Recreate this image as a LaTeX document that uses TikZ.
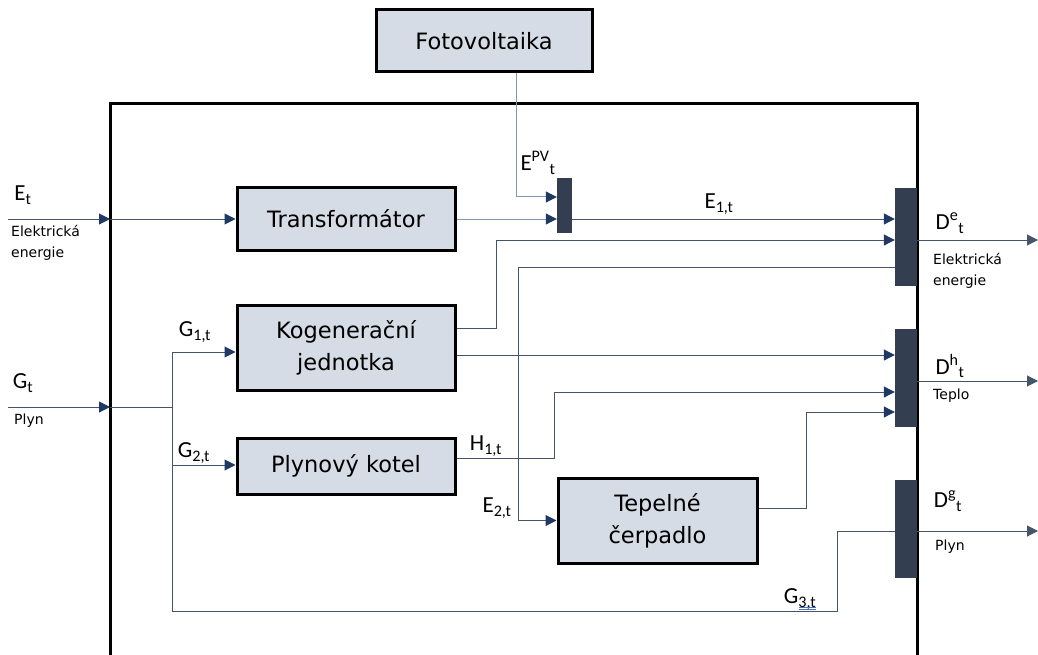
\documentclass[tikz,border=0pt]{standalone}
\usepackage{fontspec}
\setmainfont{DejaVu Sans}
\newfontfamily\lblfont{Carlito}
\usetikzlibrary{arrows.meta}
\definecolor{boxfill}{HTML}{D6DCE5}
\definecolor{barfill}{HTML}{333F50}
\definecolor{flowcol}{HTML}{44546A}
\definecolor{flowlight}{HTML}{8497B0}
\definecolor{tipnavy}{HTML}{1F3864}
\definecolor{spellblue}{HTML}{4472C4}
\tikzset{
  unit/.style={draw=black, line width=3pt, fill=boxfill, inner sep=0pt, align=center,
    font=\fontsize{22.5}{32}\selectfont},
  bar/.style={fill=barfill, draw=none, inner sep=0pt},
  line/.style={draw=flowcol, line width=1pt},
  lightline/.style={draw=flowlight, line width=1pt},
  arr/.style={-{Triangle[length=11pt,width=11pt,color=tipnavy]}},
  outarr/.style={-{Triangle[length=11pt,width=11pt,color=flowcol]}},
  sym/.style={font=\lblfont\fontsize{23}{25}\selectfont, inner sep=0pt},
  small/.style={font=\fontsize{14}{21}\selectfont, inner sep=0pt, align=left},
}
\begin{document}
\begin{tikzpicture}[x=1pt,y=-1pt]
\useasboundingbox (0,0) rectangle (1038,655);
\clip (0,0) rectangle (1038,655);

% system boundary
\draw[black, line width=3pt] (110,104) rectangle (917,690);

% units
\node[unit, minimum width=216pt, minimum height=62pt] (pv) at (484,41) {Fotovoltaika};
\node[unit, minimum width=218pt, minimum height=62pt] (trafo) at (346,219) {Transformátor};
\node[unit, minimum width=218pt, minimum height=85pt] (kog) at (346,347.5) {Kogenerační\\jednotka};
\node[unit, minimum width=218pt, minimum height=56pt] (boiler) at (346,466) {Plynový kotel};
\node[unit, minimum width=199pt, minimum height=85pt] (hp) at (657.5,520.5) {Tepelné\\čerpadlo};

% collector bars
\node[bar, minimum width=15pt, minimum height=55pt] (pvbar) at (564.5,205.5) {};
\node[bar, minimum width=22pt, minimum height=98pt] (elbar) at (906,237) {};
\node[bar, minimum width=22pt, minimum height=98pt] (heatbar) at (906,378) {};
\node[bar, minimum width=22pt, minimum height=98pt] (gasbar) at (906,529) {};

% inputs and branch points
\coordinate (eIn) at (8,219);
\coordinate (eFrame) at (110,219);
\coordinate (gIn) at (8,407);
\coordinate (gFrame) at (110,407);
\coordinate (gSplit) at (172,407);
\coordinate (g1) at (172,352);
\coordinate (g2) at (172,465);
\coordinate (g3a) at (172,611);
\coordinate (g3b) at (837,611);
\coordinate (kogHeat) at ([yshift=-7.5pt]kog.east);
\coordinate (eOut) at (1038,240);
\coordinate (hOut) at (1038,381);
\coordinate (gOut) at (1038,531);

% electricity
\draw[line, arr] (eIn) -- (eFrame);
\draw[line, arr] (eFrame) -- (trafo.west);
\draw[lightline, arr] ([xshift=32pt]pv.south) |- ([yshift=8.5pt]pvbar.west);
\draw[lightline, arr] (trafo.east) -- (pvbar.west |- trafo.east);
\draw[line, arr] (pvbar.east |- trafo.east) -- (elbar.west |- trafo.east);
\draw[line, arr] ([yshift=19.5pt]kog.east) -- ++(40,0) |- ([yshift=-3pt]elbar.west);
\draw[line, arr] ([yshift=-30pt]elbar.west) -| ([xshift=-38pt]hp.west) -- (hp.west);
\draw[line, outarr] ([yshift=-3pt]elbar.east) -- (eOut);

% heat
\draw[line, arr] (kogHeat) -- (heatbar.west |- kogHeat);
\draw[line, arr] ([yshift=8pt]boiler.east) -- ++(98,0) |- ([yshift=-14pt]heatbar.west);
\draw[line, arr] ([yshift=12.5pt]hp.east) -- ++(48,0) |- ([yshift=-34pt]heatbar.west);
\draw[line, outarr] ([yshift=-3pt]heatbar.east) -- (hOut);

% gas
\draw[line, arr] (gIn) -- (gFrame);
\draw[line] (gFrame) -- (gSplit);
\draw[line] (g1) -- (g3a) -- (g3b) |- ([yshift=-2pt]gasbar.west);
\draw[line, arr] (g1) -- (kog.west |- g1);
\draw[line, arr] (g2) -- (boiler.west |- g2);
\draw[line, outarr] ([yshift=-2pt]gasbar.east) -- (gOut);

% flow labels
\node[sym] (lEt) at (23,195) {E\textsubscript{t}};
\node[small, anchor=north west] (lEtx) at (11,225) {Elektrická\\energie};
\node[sym] (lGt) at (23,383) {G\textsubscript{t}};
\node[small, anchor=north west] (lGtx) at (14,414) {Plyn};
\node[sym] (lG1) at (195,332) {G\textsubscript{1,t}};
\node[sym] (lG2) at (194,453) {G\textsubscript{2,t}};
\node[sym] (lH1) at (486,446) {H\textsubscript{1,t}};
\node[sym] (lE2) at (497,508) {E\textsubscript{2,t}};
\node[sym] (lE1) at (719,204) {E\textsubscript{1,t}};
\node[sym] (lEpv) at (538,163) {E\textsuperscript{PV}\textsubscript{t}};
\node[sym] (lG3) at (800,599) {G\textsubscript{3,t}};
\draw[spellblue, line width=0.6pt] (799,607.5) -- (816,607.5);
\draw[spellblue, line width=0.6pt] (799,609.5) -- (816,609.5);
\node[sym] (lDe) at (950,223) {D\textsuperscript{e}\textsubscript{t}};
\node[small, anchor=north west] (lDex) at (933,253) {Elektrická\\energie};
\node[sym] (lDh) at (950,366) {D\textsuperscript{h}\textsubscript{t}};
\node[small, anchor=north west] (lDhx) at (933,389) {Teplo};
\node[sym] (lDg) at (948,501) {D\textsuperscript{g}\textsubscript{t}};
\node[small, anchor=north west] (lDgx) at (935,540) {Plyn};
\end{tikzpicture}
\end{document}
